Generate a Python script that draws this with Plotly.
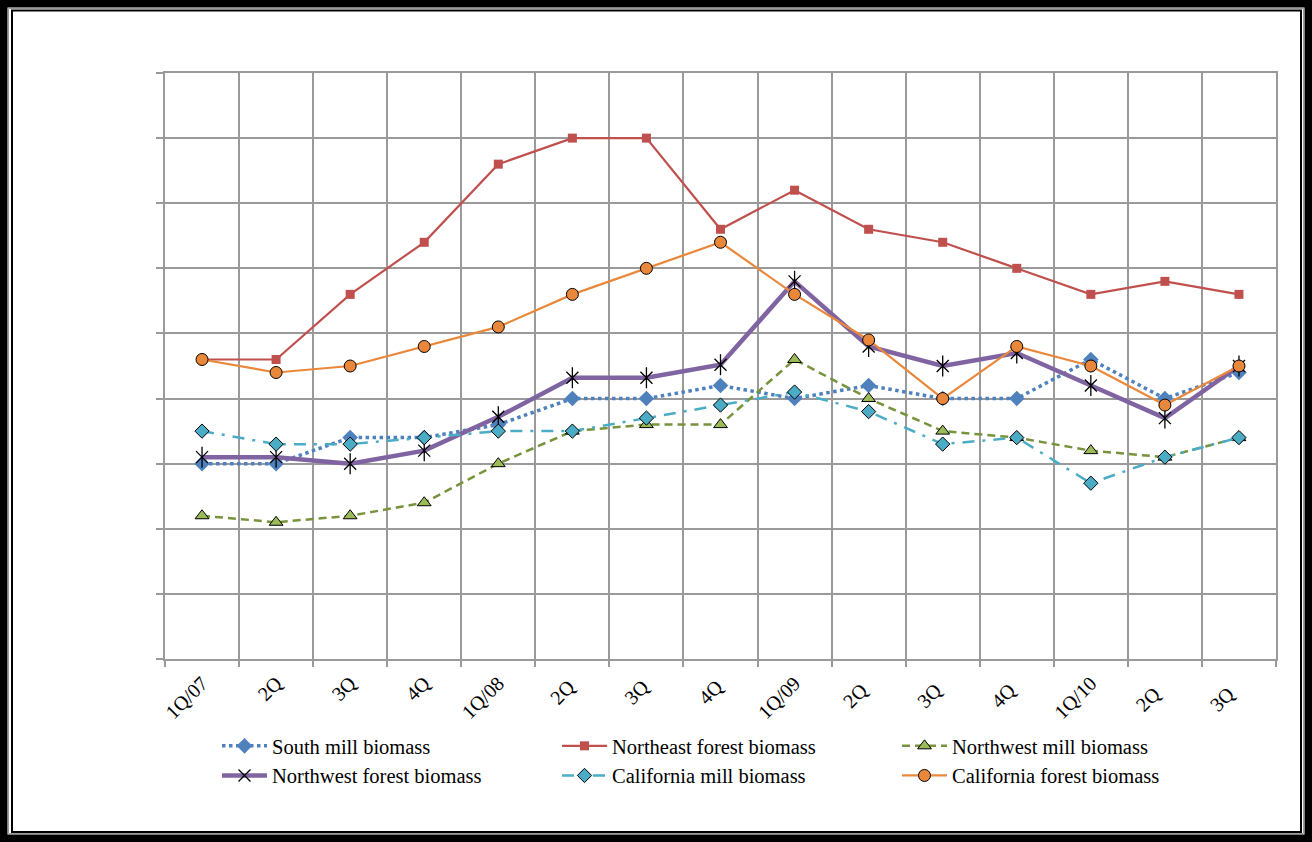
import plotly.graph_objects as go

quarters = ["1Q/07", "2Q", "3Q", "4Q", "1Q/08", "2Q ", "3Q ", "4Q ", "1Q/09",
            "2Q  ", "3Q  ", "4Q  ", "1Q/10", "2Q   ", "3Q   "]

south_mill = [15, 15, 17, 17, 18, 20, 20, 21, 20, 21, 20, 20, 23, 20, 22]
northeast_forest = [23, 23, 28, 32, 38, 40, 40, 33, 36, 33, 32, 30, 28, 29, 28]
northwest_mill = [11, 10.5, 11, 12, 15, 17.5, 18, 18, 23, 20, 17.5, 17, 16, 15.5, 17]
northwest_forest = [15.5, 15.5, 15, 16, 18.6, 21.6, 21.6, 22.6, 29, 24, 22.5, 23.5, 21, 18.5, 22.5]
california_mill = [17.5, 16.5, 16.5, 17, 17.5, 17.5, 18.5, 19.5, 20.5, 19, 16.5, 17, 13.5, 15.5, 17]
california_forest = [23, 22, 22.5, 24, 25.5, 28, 30, 32, 28, 24.5, 20, 24, 22.5, 19.5, 22.5]

FONT = "Liberation Serif, Times New Roman, serif"

fig = go.Figure()

fig.add_trace(go.Scatter(
    x=quarters, y=south_mill, name="South mill biomass", mode="lines+markers",
    line=dict(color="#4F81BD", width=3.5, dash="dot"),
    marker=dict(symbol="diamond", size=12, color="#4F81BD", line=dict(width=0))))

fig.add_trace(go.Scatter(
    x=quarters, y=northeast_forest, name="Northeast forest biomass", mode="lines+markers",
    line=dict(color="#C0504D", width=2.2),
    marker=dict(symbol="square", size=9, color="#C0504D", line=dict(width=0))))

fig.add_trace(go.Scatter(
    x=quarters, y=northwest_mill, name="Northwest mill biomass", mode="lines+markers",
    line=dict(color="#77933C", width=2.5, dash="8px,5px"),
    marker=dict(symbol="triangle-up", size=12, color="#9BBB59", line=dict(width=1, color="black"))))

fig.add_trace(go.Scatter(
    x=quarters, y=northwest_forest, name="Northwest forest biomass", mode="lines+markers",
    line=dict(color="#8064A2", width=4.5), legendgroup="nwf",
    marker=dict(symbol="x-thin-open", size=12, color="black", line=dict(width=1.3, color="black"))))
fig.add_trace(go.Scatter(
    x=quarters, y=northwest_forest, name="Northwest forest biomass", mode="markers",
    showlegend=False, legendgroup="nwf", hoverinfo="skip",
    marker=dict(symbol="line-ns-open", size=15, color="black", line=dict(width=1.3, color="black"))))

fig.add_trace(go.Scatter(
    x=quarters, y=california_mill, name="California mill biomass", mode="lines+markers",
    line=dict(color="#4BACC6", width=2.5, dash="12px,8px,3px,8px"),
    marker=dict(symbol="diamond", size=11, color="#4BACC6", line=dict(width=1, color="black"))))

fig.add_trace(go.Scatter(
    x=quarters, y=california_forest, name="California forest biomass", mode="lines+markers",
    line=dict(color="#E9883A", width=2.2),
    marker=dict(symbol="circle", size=12, color="#E9883A", line=dict(width=1, color="black"))))

# frame in paper coordinates (plot area: x 165..1276, y 73..659)
L, R, T, B = 165.0, 1276.0, 73.0, 659.0
def px(x):
    return (x - L) / (R - L)
def py(y):
    return (B - y) / (B - T)

shapes = [
    dict(type="rect", xref="paper", yref="paper", x0=px(3.5), x1=px(1308.5), y0=py(3.5), y1=py(838.5),
         line=dict(color="black", width=8), layer="above"),
    dict(type="rect", xref="paper", yref="paper", x0=px(8.5), x1=px(1303.5), y0=py(8.5), y1=py(833.5),
         line=dict(color="#9a9a9a", width=1), layer="above"),
    dict(type="rect", xref="paper", yref="paper", x0=px(12), x1=px(1301), y0=py(10.5), y1=py(832),
         line=dict(color="black", width=2), layer="above"),
]

fig.update_layout(
    width=1312, height=842,
    margin=dict(l=165, r=36, t=73, b=183, autoexpand=False),
    paper_bgcolor="white", plot_bgcolor="white",
    font=dict(family=FONT, color="black", size=20),
    shapes=shapes,
    showlegend=True,
    legend=dict(orientation="h", x=px(217), y=py(726), xanchor="left", yanchor="top",
                entrywidth=280, entrywidthmode="pixels", itemwidth=45,
                font=dict(family=FONT, size=20.5, color="black"),
                bgcolor="rgba(0,0,0,0)", traceorder="normal", tracegroupgap=0),
    xaxis=dict(type="category", tickson="boundaries", tickangle=-45,
               showgrid=True, gridcolor="#9a9a9a", gridwidth=1.5,
               showline=True, linecolor="#9a9a9a", linewidth=1.5, mirror=True,
               ticks="outside", ticklen=6, tickcolor="#9a9a9a", tickwidth=1.5,
               tickfont=dict(family=FONT, size=20, color="black"), ticklabelstandoff=3,
               range=[-0.5, 14.5], zeroline=False, automargin=False),
    yaxis=dict(range=[0, 45], dtick=5, tick0=0, showticklabels=False,
               showgrid=True, gridcolor="#9a9a9a", gridwidth=1.5,
               showline=True, linecolor="#9a9a9a", linewidth=1.5, mirror=True,
               ticks="outside", ticklen=7, tickcolor="#9a9a9a", tickwidth=1.5,
               zeroline=False, automargin=False),
)

fig.write_html("out.html")
